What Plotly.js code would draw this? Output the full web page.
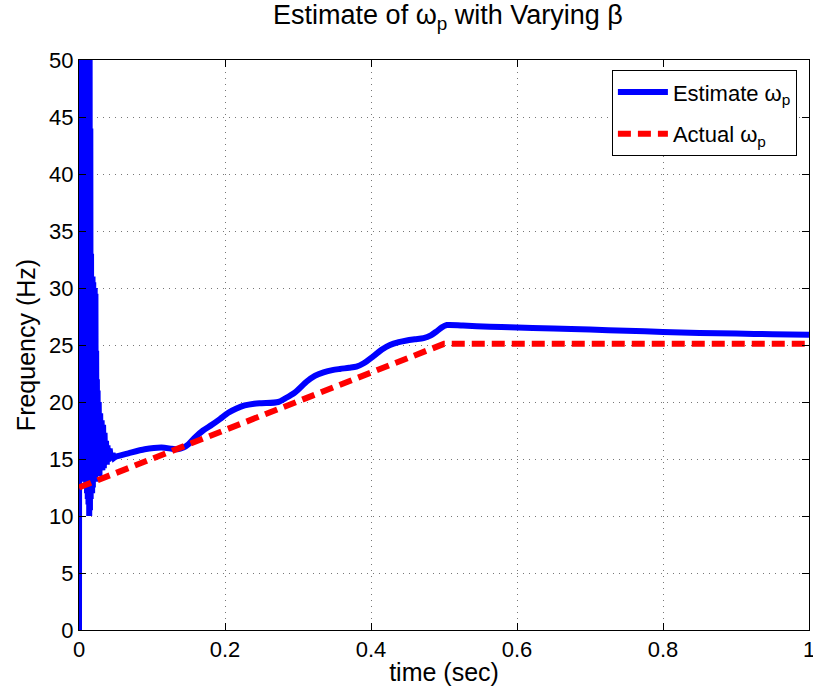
<!DOCTYPE html>
<html>
<head>
<meta charset="utf-8">
<script src="https://cdn.plot.ly/plotly-3.0.1.min.js"></script>
<style>html,body{margin:0;padding:0;background:#fff;}#chart{width:813px;height:695px;}</style>
</head>
<body>
<div id="chart"></div>
<script>
// Estimated omega_p (blue), start-up transient
const transT = [0, 0.0005, 0.001, 0.0015, 0.002, 0.0025, 0.003, 0.0035, 0.004, 0.0045, 0.005,
  0.0055, 0.006, 0.0065, 0.007, 0.0075, 0.008, 0.0085, 0.009, 0.0095, 0.010,
  0.0105, 0.011, 0.0115, 0.012, 0.0125, 0.013, 0.0135, 0.014, 0.0145, 0.015,
  0.0155, 0.016, 0.0165, 0.017, 0.0175, 0.018, 0.0185, 0.019, 0.0195, 0.020,
  0.0205, 0.021, 0.0215, 0.022, 0.0225, 0.023, 0.0235, 0.024, 0.0245, 0.025,
  0.0255, 0.026, 0.027, 0.028, 0.029, 0.030, 0.031, 0.032, 0.033, 0.034,
  0.035, 0.036, 0.037, 0.038, 0.039, 0.040, 0.042, 0.044, 0.046, 0.048, 0.05];
const transW = [0, 60, 13, 60, 13, 60, 13, 60, 13, 60, 13,
  60, 13, 60, 13, 60, 13, 60, 13, 60, 12.5,
  60, 12, 60, 11.5, 60, 11, 60, 10, 55, 10.5,
  44, 11.5, 33, 12, 31, 12, 31, 12.5, 30.5, 13,
  30, 13, 30, 13, 29.5, 13.5, 24.5, 13.5, 22, 13.5,
  21, 13.5, 20, 13.5, 19, 14, 18.4, 14, 18, 14.2,
  17.3, 14.5, 16.6, 14.5, 16.2, 14.8, 15.9, 14.9, 15.5, 15.1, 15.2];

// Estimated omega_p (blue), smooth part after the transient
const smoothT = [0.05, 0.0676, 0.09, 0.113, 0.127, 0.135, 0.143, 0.15, 0.159, 0.17, 0.182, 0.193, 0.2045,
  0.215, 0.227, 0.24, 0.25, 0.273, 0.282, 0.296, 0.312, 0.323, 0.335, 0.347, 0.3575,
  0.37, 0.38, 0.39, 0.403, 0.415, 0.426, 0.438, 0.449, 0.46, 0.472, 0.482, 0.49,
  0.497, 0.504, 0.526, 0.563, 0.59, 0.65, 0.70, 0.75, 0.80, 0.85, 0.90, 0.95, 1.0];
const smoothW = [15.2, 15.5, 15.85, 16.0, 15.9, 15.85, 16.0, 16.3, 16.9, 17.5, 18.0, 18.5, 19.05,
  19.4, 19.7, 19.85, 19.9, 20.0, 20.3, 20.85, 21.8, 22.3, 22.6, 22.8, 22.9,
  23.0, 23.1, 23.4, 24.0, 24.6, 25.0, 25.25, 25.4, 25.5, 25.6, 25.85, 26.2,
  26.55, 26.75, 26.7, 26.6, 26.55, 26.45, 26.35, 26.25, 26.15, 26.05, 26.0, 25.95, 25.9];

// Actual omega_p (red dashed)
const actT = [0, 0.5, 1.0];
const actW = [12.5, 25.1, 25.1];

const xTicks = [0, 0.2, 0.4, 0.6, 0.8, 1];
const xTickText = ['0', '0.2', '0.4', '0.6', '0.8', '1'];
const yTicks = [0, 5, 10, 15, 20, 25, 30, 35, 40, 45, 50];

const FONT = 'Liberation Sans, Arial, Helvetica, sans-serif';

const traces = [
  {x: transT, y: transW, type: 'scatter', mode: 'lines', name: 'Estimate ω<sub>p</sub>',
   legendgroup: 'est', line: {color: '#0000ff', width: 6, simplify: false}},
  {x: smoothT, y: smoothW, type: 'scatter', mode: 'lines', name: 'Estimate ω<sub>p</sub>',
   legendgroup: 'est', showlegend: false,
   line: {color: '#0000ff', width: 6, shape: 'spline', smoothing: 0.8, simplify: false}},
  {x: actT, y: actW, type: 'scatter', mode: 'lines', name: 'Actual ω<sub>p</sub>',
   line: {color: '#ff0000', width: 6, dash: '13px,7px'}}
];

const axisCommon = {
  showline: true, linecolor: '#000', linewidth: 1, mirror: 'ticks',
  ticks: 'inside', ticklen: 7, tickcolor: '#000', tickwidth: 1,
  showgrid: true, gridcolor: '#777', gridwidth: 1, griddash: '1px,5px',
  zeroline: false, ticklabeloverflow: 'allow',
  tickfont: {family: FONT, size: 22, color: '#000'}
};

const layout = {
  width: 813, height: 695,
  margin: {l: 79, r: 4, t: 60, b: 65},
  paper_bgcolor: '#fff', plot_bgcolor: '#fff',
  font: {family: FONT, color: '#000'},
  title: {text: 'Estimate of ω<sub>p</sub> with Varying β', font: {family: FONT, size: 27, color: '#000'},
          x: 0.551, xanchor: 'center', xref: 'container', y: 0.992, yanchor: 'top', yref: 'container'},
  xaxis: Object.assign({}, axisCommon, {
    range: [0, 1], tickvals: xTicks, ticktext: xTickText,
    title: {text: 'time (sec)', font: {family: FONT, size: 25, color: '#000'}, standoff: 2}
  }),
  yaxis: Object.assign({}, axisCommon, {
    range: [0, 50], tickvals: yTicks,
    title: {text: 'Frequency (Hz)', font: {family: FONT, size: 25, color: '#000'}, standoff: 6}
  }),
  showlegend: true,
  legend: {x: 0.730, y: 0.982, xanchor: 'left', yanchor: 'top',
           bgcolor: '#fff', bordercolor: '#000', borderwidth: 1,
           font: {family: FONT, size: 22, color: '#000'}, itemwidth: 50}
};

Plotly.newPlot('chart', traces, layout, {staticPlot: true, displayModeBar: false});
</script>
</body>
</html>
